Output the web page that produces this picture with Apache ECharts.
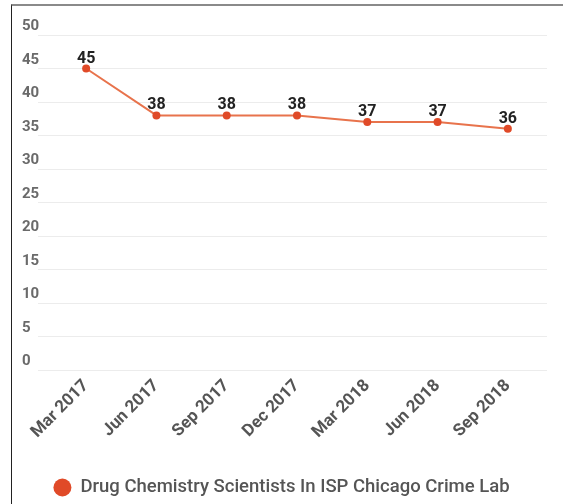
<!DOCTYPE html>
<html>
<head>
<meta charset="utf-8">
<script src="https://cdn.jsdelivr.net/npm/echarts@6/dist/echarts.min.js"></script>
<style>
html,body{margin:0;padding:0;background:#fff;}
#chart{width:563px;height:504px;}
#frame{position:absolute;left:11px;top:4px;width:552px;height:500px;border-top:2px solid #8a8a8a;border-left:1px solid #222;pointer-events:none;}
</style>
</head>
<body>
<div id="chart"></div>
<div id="frame"></div>
<script>
const categories = ['Mar 2017','Jun 2017','Sep 2017','Dec 2017','Mar 2018','Jun 2018','Sep 2018'];
const scientists = [45, 38, 38, 38, 37, 37, 36];
const seriesName = 'Drug Chemistry Scientists In ISP Chicago Crime Lab';
const yMin = 0, yMax = 50, yStep = 5;

const chart = echarts.init(document.getElementById('chart'));
const font = 'Roboto, "Noto Sans", sans-serif';
chart.setOption({
  animation: false,
  grid: [
    {left: 51, right: 20, top: 35, bottom: 134},
    {left: 38, right: 16, top: 35, bottom: 134}
  ],
  legend: {
    bottom: 2, left: 'center',
    icon: 'circle', itemWidth: 18, itemHeight: 18, itemGap: 10,
    textStyle: {color: '#555', fontSize: 18.5, fontFamily: font, fontWeight: 500, padding: [0,0,0,4]},
    data: [seriesName]
  },
  xAxis: [
    {
      type: 'category', gridIndex: 0, data: categories, boundaryGap: true,
      axisLine: {show: false}, axisTick: {show: false},
      axisLabel: {rotate: 45, interval: 0, margin: 13, color: '#555', fontSize: 17, fontFamily: font, fontWeight: 'bold'}
    },
    {type: 'value', gridIndex: 1, show: false}
  ],
  yAxis: [
    {type: 'value', gridIndex: 0, min: yMin, max: yMax, interval: yStep, show: false},
    {
      type: 'value', gridIndex: 1, min: yMin, max: yMax, interval: yStep,
      axisLine: {show: false}, axisTick: {show: false},
      splitLine: {lineStyle: {color: '#ececec', width: 1}},
      axisLabel: {align: 'left', margin: 16, verticalAlign: 'bottom', padding: [0,0,1,0], color: '#6a6a6a', fontSize: 15, fontFamily: font, fontWeight: 'bold'}
    }
  ],
  series: [{
    name: seriesName, type: 'line', xAxisIndex: 0, yAxisIndex: 0,
    data: scientists,
    symbol: 'circle', symbolSize: 8,
    itemStyle: {color: '#e04a28'},
    lineStyle: {color: '#e8734c', width: 2},
    label: {show: true, position: 'top', distance: -2, color: '#222', fontSize: 16, fontWeight: 'bold', fontFamily: font}
  }]
});
</script>
</body>
</html>
